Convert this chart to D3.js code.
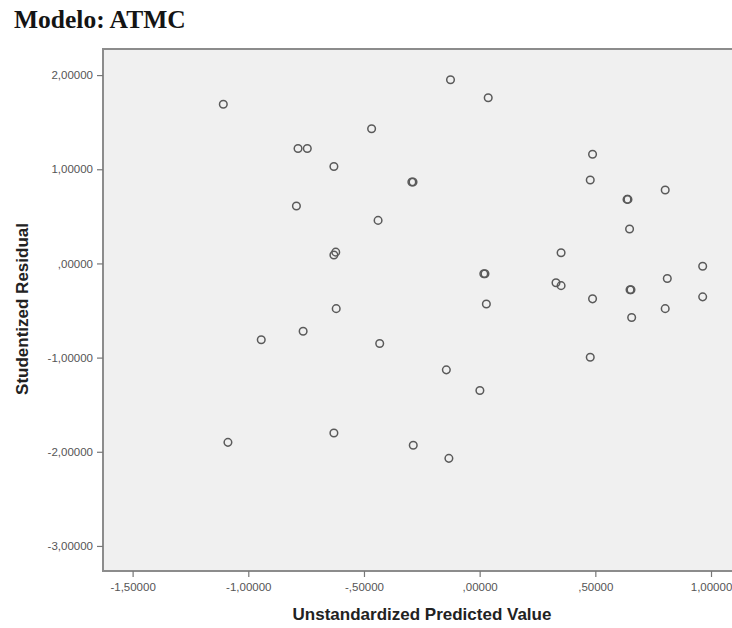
<!DOCTYPE html>
<html>
<head>
<meta charset="utf-8">
<script src="https://cdn.jsdelivr.net/npm/d3@7"></script>
<style>
  body { margin: 0; background: #fff; }
  svg { display: block; }
</style>
</head>
<body>
<svg id="chart" width="732" height="628"></svg>
<script>
// values
var predicted = [-1.108, -0.126, 0.037, -0.467, -0.785, -0.745, -0.630, -0.293, -0.288, -0.792,
                 -0.439, -0.630, -0.622, 0.018, 0.023, 0.029, -0.620, -0.763, -0.944, -0.432,
                 -0.144, 0.001, -1.088, -0.630, -0.287, -0.133, 0.488, 0.478, 0.802, 0.637,
                 0.641, 0.648, 0.352, 0.964, 0.330, 0.352, 0.811, 0.650, 0.654, 0.488,
                 0.964, 0.802, 0.657, 0.478];
var residual = [1.69, 1.95, 1.76, 1.43, 1.22, 1.22, 1.03, 0.865, 0.865, 0.61,
                0.457, 0.09, 0.12, -0.11, -0.11, -0.43, -0.48, -0.72, -0.81, -0.85,
                -1.13, -1.35, -1.90, -1.80, -1.93, -2.07, 1.16, 0.886, 0.78, 0.68,
                0.68, 0.365, 0.114, -0.03, -0.205, -0.236, -0.16, -0.28, -0.28, -0.376,
                -0.355, -0.48, -0.574, -0.997];

var xTicks = [-1.5, -1.0, -0.5, 0, 0.5, 1.0];
var yTicks = [2, 1, 0, -1, -2, -3];

var svg = d3.select("#chart");

// plot frame (right side runs off the picture like in the original)
var plotLeft = 103, plotTop = 49, plotBottom = 571, plotRight = 736;

var x = d3.scaleLinear().domain([-1.628, 1.108]).range([plotLeft, plotRight]);
var y = d3.scaleLinear().domain([-3.266, 2.277]).range([plotBottom, plotTop]);

// spss style numbers: 1,00000  ,00000  -,50000
function spss(v) {
    var s = Math.abs(v).toFixed(5).replace(/^0\./, ".").replace(".", ",");
    return (v < 0 ? "-" : "") + s;
}

svg.append("text")
    .attr("x", 14)
    .attr("y", 28)
    .attr("font-family", "Liberation Serif, Times New Roman, serif")
    .attr("font-weight", "bold")
    .attr("font-size", 25.5)
    .attr("fill", "#141414")
    .text("Modelo: ATMC");

svg.append("rect")
    .attr("x", plotLeft)
    .attr("y", plotTop)
    .attr("width", plotRight - plotLeft)
    .attr("height", plotBottom - plotTop)
    .attr("fill", "#f0f0f0")
    .attr("stroke", "#8c8c8c")
    .attr("stroke-width", 2);

var xAxis = svg.append("g")
    .attr("transform", "translate(0," + plotBottom + ")")
    .call(d3.axisBottom(x).tickValues(xTicks).tickFormat(spss).tickSize(6).tickPadding(6));

var yAxis = svg.append("g")
    .attr("transform", "translate(" + plotLeft + ",0)")
    .call(d3.axisLeft(y).tickValues(yTicks).tickFormat(spss).tickSize(6).tickPadding(4));

[xAxis, yAxis].forEach(function(g) {
    g.select(".domain").remove();
    g.selectAll(".tick line").attr("stroke", "#777").attr("stroke-width", 1.2);
    g.selectAll(".tick text")
        .attr("font-family", "Liberation Sans, Arial, sans-serif")
        .attr("font-size", 11.5)
        .attr("fill", "#555");
});

svg.append("g")
    .selectAll("circle")
    .data(predicted)
    .enter().append("circle")
    .attr("cx", function(d) { return x(d); })
    .attr("cy", function(d, i) { return y(residual[i]); })
    .attr("r", 3.8)
    .attr("fill", "none")
    .attr("stroke", "#5a5a5a")
    .attr("stroke-width", 1.5);

svg.append("text")
    .attr("x", 422)
    .attr("y", 620)
    .attr("text-anchor", "middle")
    .attr("font-family", "Liberation Sans, Arial, sans-serif")
    .attr("font-weight", "bold")
    .attr("font-size", 17)
    .attr("fill", "#222")
    .text("Unstandardized Predicted Value");

svg.append("text")
    .attr("transform", "translate(28,309) rotate(-90)")
    .attr("text-anchor", "middle")
    .attr("font-family", "Liberation Sans, Arial, sans-serif")
    .attr("font-weight", "bold")
    .attr("font-size", 17)
    .attr("fill", "#222")
    .text("Studentized Residual");
</script>
</body>
</html>
